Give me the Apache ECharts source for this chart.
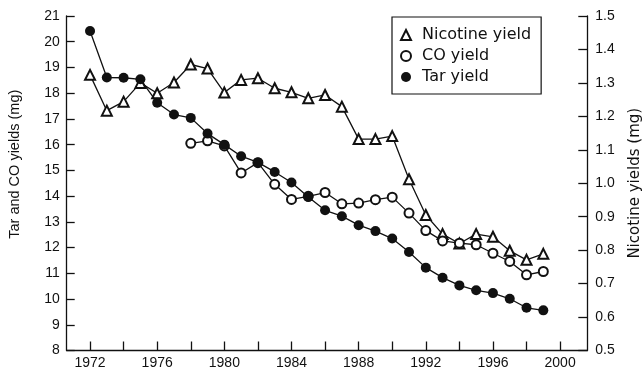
<!DOCTYPE html>
<html>
<head>
<meta charset="utf-8">
<script src="https://cdn.jsdelivr.net/npm/echarts@6/dist/echarts.min.js"></script>
<style>
html,body{margin:0;padding:0;background:#fff;}
#c{width:643px;height:374px;}
</style>
</head>
<body>
<div id="c"></div>
<script>
const years = [1972,1973,1974,1975,1976,1977,1978,1979,1980,1981,1982,1983,1984,1985,1986,1987,1988,1989,1990,1991,1992,1993,1994,1995,1996,1997,1998,1999];
const nicotineYield = [1.324,1.217,1.244,1.300,1.269,1.301,1.355,1.343,1.271,1.309,1.314,1.284,1.272,1.254,1.264,1.229,1.132,1.132,1.141,1.012,0.905,0.848,0.820,0.848,0.840,0.798,0.771,0.789];
const coYield = [null,null,null,null,null,null,16.05,16.15,15.95,14.9,15.3,14.46,13.87,13.99,14.14,13.7,13.73,13.86,13.96,13.34,12.66,12.26,12.17,12.11,11.78,11.46,10.94,11.07];
const tarYield = [20.42,18.61,18.6,18.54,17.63,17.17,17.04,16.43,16.0,15.55,15.31,14.94,14.53,13.97,13.45,13.22,12.87,12.64,12.35,11.83,11.22,10.83,10.53,10.34,10.23,10.01,9.66,9.56];
const xTickValues = [1972,1974,1976,1978,1980,1982,1984,1986,1988,1990,1992,1994,1996,1998,2000];
const xLabelValues = [1972,1976,1980,1984,1988,1992,1996,2000];
const seriesNames = ['Nicotine yield','CO yield','Tar yield'];

const pairs = arr => years.map((y,i) => [y, arr[i]]);
const ink = '#111';
const axisFont = "'Liberation Sans', Arial, sans-serif";
const wideFont = "'DejaVu Sans', sans-serif";

const chart = echarts.init(document.getElementById('c'), null, {renderer:'canvas'});
chart.setOption({
  backgroundColor:'#fff',
  animation:false,
  grid:{left:66.7, right:55.7, top:16, bottom:23.5, containLabel:false, outerBoundsMode:'none'},
  legend:{
    orient:'vertical', left:392, top:17,
    padding:[10,10,9,8],
    borderColor:ink, borderWidth:1.2,
    itemWidth:10, itemHeight:10, itemGap:5,
    textStyle:{fontFamily:wideFont, fontSize:16, lineHeight:16, color:ink, padding:[0,0,0,6]},
    data:[
      {name:seriesNames[0], icon:'emptyTriangle'},
      {name:seriesNames[1], icon:'emptyCircle'},
      {name:seriesNames[2], icon:'circle'}
    ]
  },
  xAxis:{
    type:'value', min:1970.61, max:2001.62,
    axisLine:{show:true, lineStyle:{color:ink, width:1.3}},
    axisTick:{show:true, inside:true, length:9, customValues:xTickValues, lineStyle:{color:ink, width:1.3}},
    axisLabel:{customValues:xLabelValues, formatter:v=>String(v), margin:6, fontFamily:axisFont, fontSize:14, color:ink},
    splitLine:{show:false}
  },
  yAxis:[
    {
      type:'value', min:8, max:21, interval:1, position:'left',
      name:'Tar and CO yields (mg)', nameLocation:'middle', nameRotate:90, nameGap:44, nameMoveOverlap:false,
      nameTextStyle:{fontFamily:axisFont, fontSize:14.5, color:ink, padding:[0,0,0,38]},
      axisLine:{show:true, lineStyle:{color:ink, width:1.3}},
      axisTick:{show:true, inside:true, length:8, lineStyle:{color:ink, width:1.3}},
      axisLabel:{margin:7, fontFamily:axisFont, fontSize:14, color:ink},
      splitLine:{show:false}
    },
    {
      type:'value', min:0.5, max:1.5, interval:0.1, position:'right',
      name:'Nicotine yields (mg)', nameLocation:'middle', nameRotate:90, nameGap:40, nameMoveOverlap:false,
      nameTextStyle:{fontFamily:wideFont, fontSize:15, color:ink},
      axisLine:{show:true, lineStyle:{color:ink, width:1.3}},
      axisTick:{show:true, inside:true, length:9, lineStyle:{color:ink, width:1.3}},
      axisLabel:{margin:8, fontFamily:axisFont, fontSize:14, color:ink, formatter:v=>v.toFixed(1)},
      splitLine:{show:false}
    }
  ],
  series:[
    {
      name:seriesNames[0], type:'line', yAxisIndex:1, data:pairs(nicotineYield),
      symbol:'emptyTriangle', symbolSize:10, showAllSymbol:true,
      lineStyle:{color:ink, width:1.3}, itemStyle:{color:ink, borderColor:ink, borderWidth:1.4},
      z:2
    },
    {
      name:seriesNames[1], type:'line', yAxisIndex:0, data:pairs(coYield),
      symbol:'emptyCircle', symbolSize:9, showAllSymbol:true, connectNulls:false,
      lineStyle:{color:ink, width:1.3}, itemStyle:{color:ink, borderColor:ink, borderWidth:1.4},
      z:3
    },
    {
      name:seriesNames[2], type:'line', yAxisIndex:0, data:pairs(tarYield),
      symbol:'circle', symbolSize:10, showAllSymbol:true,
      lineStyle:{color:ink, width:1.3}, itemStyle:{color:ink},
      z:4
    }
  ]
});
</script>
</body>
</html>
